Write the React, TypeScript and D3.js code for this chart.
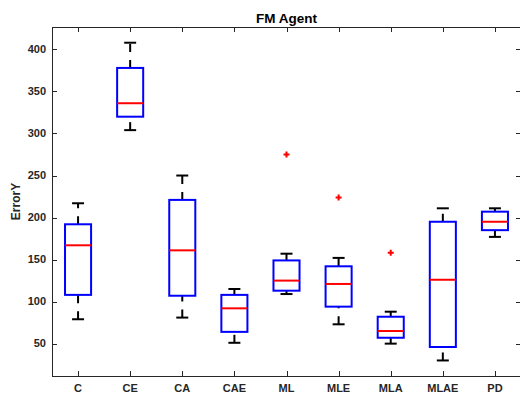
import {useEffect, useRef} from "react";
import * as d3 from "d3";

const categories = ["C", "CE", "CA", "CAE", "ML", "MLE", "MLA", "MLAE", "PD"];
const lowerWhisker = [79, 304, 81, 51, 109, 73, 50, 30, 177];
const q1 = [108, 320, 107, 64, 113, 94, 57, 46, 185];
const medians = [167, 336, 161, 92, 125, 121, 65, 126, 195];
const q3 = [192, 378, 221, 108, 149, 142, 82, 195, 207];
const upperWhisker = [217, 408, 250, 115, 157, 152, 88, 211, 211];
// outliers as [category index, value]
const outliers = [
	[4, 275],
	[5, 224],
	[6, 158],
];
const yTicks = [50, 100, 150, 200, 250, 300, 350, 400];

const App = () => {
	const svgRef = useRef(null);

	useEffect(() => {
		const width = 520;
		const height = 393;
		const left = 52;
		const right = 521;
		const top = 27;
		const bottom = 376;
		const axisColor = "#262626";
		const font = "'Liberation Sans', Arial, Helvetica, sans-serif";

		const x = d3.scaleLinear().domain([0.5, 9.5]).range([left, right]);
		const y = d3.scaleLinear().domain([11.5, 426.7]).range([bottom, top]);

		const svg = d3
			.select(svgRef.current)
			.attr("width", width)
			.attr("height", height)
			.attr("viewBox", [0, 0, width, height]);

		svg.selectAll("*").remove();

		svg.append("rect").attr("width", width).attr("height", height).attr("fill", "#fff");

		const boxes = categories.map((c, i) => ({
			pos: i + 1,
			lw: lowerWhisker[i],
			q1: q1[i],
			med: medians[i],
			q3: q3[i],
			uw: upperWhisker[i],
		}));

		const halfBox = 0.25;
		const halfCap = 0.115;
		const g = svg.append("g");

		// whiskers (dashed), lower drawn from adjacent value up to q1, upper from q3 up
		g.selectAll(".lowW")
			.data(boxes)
			.join("line")
			.attr("x1", (d) => x(d.pos))
			.attr("x2", (d) => x(d.pos))
			.attr("y1", (d) => y(d.lw))
			.attr("y2", (d) => y(d.q1))
			.attr("stroke", "#000")
			.attr("stroke-width", 2)
			.attr("stroke-dasharray", "8,8");
		g.selectAll(".upW")
			.data(boxes)
			.join("line")
			.attr("x1", (d) => x(d.pos))
			.attr("x2", (d) => x(d.pos))
			.attr("y1", (d) => y(d.q3))
			.attr("y2", (d) => y(d.uw))
			.attr("stroke", "#000")
			.attr("stroke-width", 2)
			.attr("stroke-dasharray", "8,8");

		// whisker caps
		["lw", "uw"].forEach((k) => {
			g.append("g")
				.selectAll("line")
				.data(boxes)
				.join("line")
				.attr("x1", (d) => x(d.pos - halfCap))
				.attr("x2", (d) => x(d.pos + halfCap))
				.attr("y1", (d) => y(d[k]))
				.attr("y2", (d) => y(d[k]))
				.attr("stroke", "#000")
				.attr("stroke-width", 2);
		});

		// boxes
		g.append("g")
			.selectAll("rect")
			.data(boxes)
			.join("rect")
			.attr("x", (d) => x(d.pos - halfBox))
			.attr("y", (d) => y(d.q3))
			.attr("width", (d) => x(d.pos + halfBox) - x(d.pos - halfBox))
			.attr("height", (d) => y(d.q1) - y(d.q3))
			.attr("fill", "none")
			.attr("stroke", "#0000ff")
			.attr("stroke-width", 2);

		// medians
		g.append("g")
			.selectAll("line")
			.data(boxes)
			.join("line")
			.attr("x1", (d) => x(d.pos - halfBox))
			.attr("x2", (d) => x(d.pos + halfBox))
			.attr("y1", (d) => y(d.med))
			.attr("y2", (d) => y(d.med))
			.attr("stroke", "#ff0000")
			.attr("stroke-width", 2);

		// outliers as red plus markers
		g.append("g")
			.selectAll("path")
			.data(outliers)
			.join("path")
			.attr("d", (d) => {
				const cx = x(d[0] + 1);
				const cy = y(d[1]);
				return `M${cx - 3},${cy}H${cx + 3}M${cx},${cy - 3}V${cy + 3}`;
			})
			.attr("stroke", "#ff0000")
			.attr("stroke-width", 2);

		// axes box
		const ax = svg.append("g").attr("stroke", axisColor).attr("stroke-width", 1).attr("fill", "none");
		ax.append("rect")
			.attr("x", left + 0.5)
			.attr("y", top + 0.5)
			.attr("width", right - left)
			.attr("height", bottom - top);

		// ticks point inward on all four sides
		ax.selectAll(".yt")
			.data(yTicks)
			.join("path")
			.attr("d", (d) => {
				const yy = Math.round(y(d)) + 0.5;
				return `M${left},${yy}h5M${right},${yy}h-5`;
			});
		ax.selectAll(".xt")
			.data(categories)
			.join("path")
			.attr("d", (d, i) => {
				const xx = Math.round(x(i + 1)) + 0.5;
				return `M${xx},${bottom}v-5M${xx},${top}v5`;
			});

		const labels = svg
			.append("g")
			.attr("font-family", font)
			.attr("font-weight", "bold")
			.attr("font-size", 11)
			.attr("fill", axisColor);

		labels.selectAll(".yl")
			.data(yTicks)
			.join("text")
			.attr("x", left - 6)
			.attr("y", (d) => y(d))
			.attr("dy", "0.35em")
			.attr("text-anchor", "end")
			.text((d) => d);

		labels.selectAll(".xl")
			.data(categories)
			.join("text")
			.attr("x", (d, i) => x(i + 1))
			.attr("y", 392)
			.attr("text-anchor", "middle")
			.text((d) => d);

		labels.append("text")
			.attr("transform", `translate(20,${(top + bottom) / 2}) rotate(-90)`)
			.attr("text-anchor", "middle")
			.attr("font-size", 12)
			.text("ErrorY");

		svg.append("text")
			.attr("x", (left + right) / 2)
			.attr("y", 23)
			.attr("text-anchor", "middle")
			.attr("font-family", font)
			.attr("font-weight", "bold")
			.attr("font-size", 13.5)
			.attr("fill", "#000")
			.text("FM Agent");
	}, []);

	return (
		<div style={{position: "absolute", left: 0, top: 0, width: 520, height: 393}}>
			<svg ref={svgRef}></svg>
		</div>
	);
};

export default App;
